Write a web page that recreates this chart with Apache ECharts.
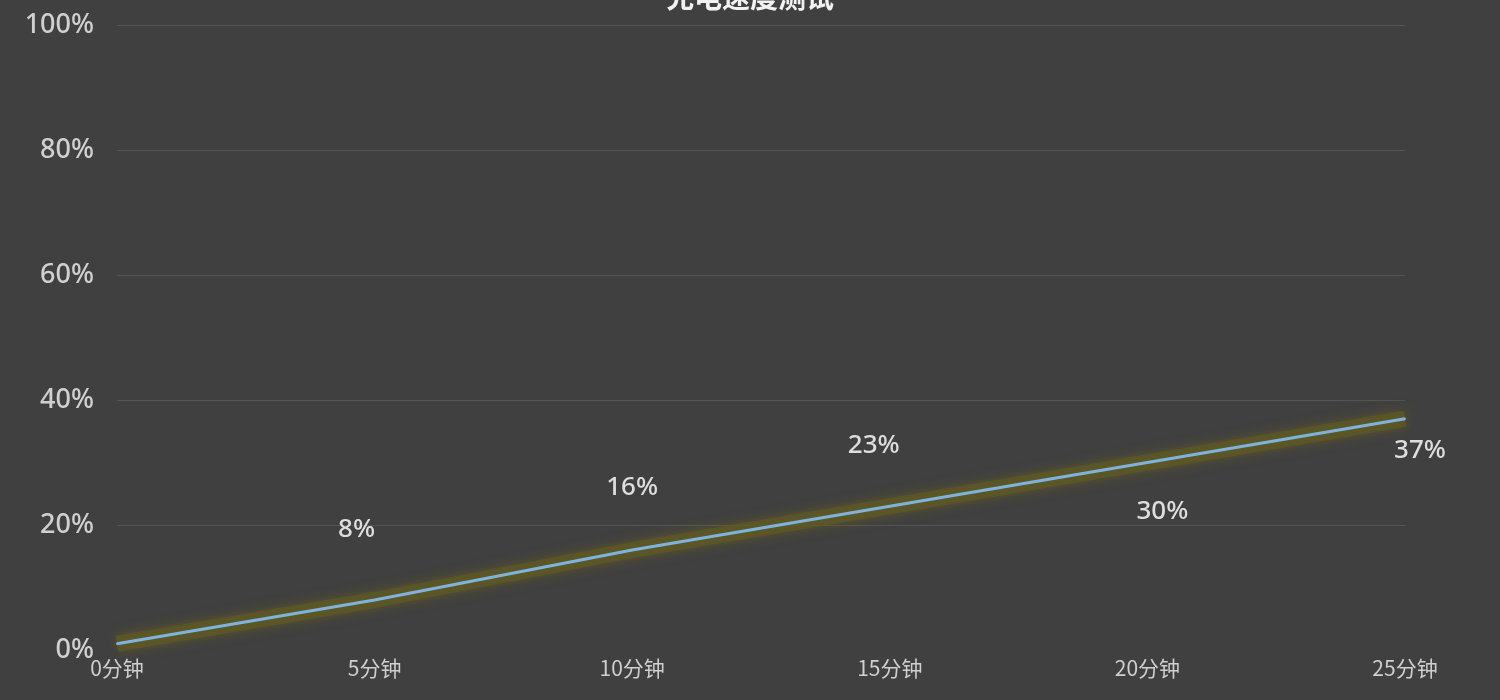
<!DOCTYPE html>
<html>
<head>
<meta charset="utf-8">
<script src="https://cdn.jsdelivr.net/npm/echarts@6/dist/echarts.min.js"></script>
<style>
html,body{margin:0;padding:0;background:#404040;}
#main{width:1500px;height:700px;}
</style>
</head>
<body>
<div id="main"></div>
<script>
// 数据
var categories = ['0分钟', '5分钟', '10分钟', '15分钟', '20分钟', '25分钟'];
var chargeValues = [1, 8, 16, 23, 30, 37];
var yTicks = [0, 20, 40, 60, 80, 100];

// 标签位置 (上下交错)
var labelOffsets = [null, [-18, -51], [0, -43], [-16, -42], [15, 68], [15, 51]];

var myChart = echarts.init(document.getElementById('main'));

var lineData = chargeValues.map(function (v, i) {
    var item = { value: v };
    if (labelOffsets[i]) {
        item.label = { show: true, offset: labelOffsets[i] };
    } else {
        item.label = { show: false };
    }
    return item;
});

var option = {
    backgroundColor: '#404040',
    title: {
        text: '充电速度测试',
        left: 'center',
        top: -22,
        textStyle: {
            color: '#f2f2f2',
            fontSize: 28,
            fontWeight: 'bold',
            fontFamily: 'Noto Sans CJK SC'
        }
    },
    grid: {
        left: 117,
        right: 95,
        top: 25,
        bottom: 50
    },
    xAxis: {
        type: 'category',
        boundaryGap: false,
        data: categories,
        axisLine: { show: false },
        axisTick: { show: false },
        axisLabel: {
            color: '#cfcfcf',
            fontSize: 21,
            margin: 8,
            fontFamily: 'Noto Sans CJK SC'
        }
    },
    yAxis: {
        type: 'value',
        min: yTicks[0],
        max: yTicks[yTicks.length - 1],
        interval: 20,
        axisLine: { show: false },
        axisTick: { show: false },
        splitLine: {
            show: true,
            showMinLine: false,
            lineStyle: { color: '#555555', width: 1 }
        },
        axisLabel: {
            color: '#d0d0d0',
            fontSize: 27,
            fontWeight: 500,
            margin: 23,
            formatter: '{value}%',
            fontFamily: 'Noto Sans'
        }
    },
    series: [
        {
            // 光晕
            name: '光晕',
            type: 'line',
            data: chargeValues,
            symbol: 'none',
            silent: true,
            z: 1,
            lineStyle: {
                color: 'rgba(95,90,35,0.7)',
                width: 16,
                shadowColor: 'rgba(110,100,25,0.8)',
                shadowBlur: 12
            }
        },
        {
            name: '电量',
            type: 'line',
            data: lineData,
            symbol: 'circle',
            symbolSize: 2,
            itemStyle: { color: '#7fb3dd' },
            z: 2,
            lineStyle: {
                color: '#7fb3dd',
                width: 3
            },
            label: {
                show: true,
                position: 'top',
                color: '#dedede',
                fontSize: 26,
                fontWeight: 500,
                fontFamily: 'Noto Sans',
                formatter: '{c}%'
            }
        }
    ]
};

myChart.setOption(option);
</script>
</body>
</html>
